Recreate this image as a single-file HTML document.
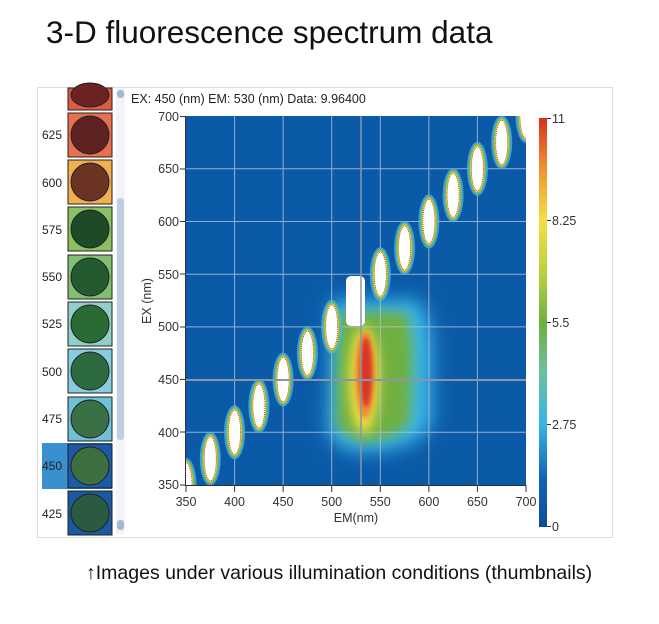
<!DOCTYPE html><html><head><meta charset="utf-8"><style>
body{margin:0;background:#fff;width:659px;height:624px;overflow:hidden;font-family:"Liberation Sans",sans-serif;position:relative}
.t{position:absolute;left:46px;top:14px;font-size:31.5px;color:#111}
.c{position:absolute;left:86px;top:562px;font-size:19.5px;color:#111}
</style></head><body>
<div class="t">3-D fluorescence spectrum data</div>
<svg width="659" height="624" style="position:absolute;left:0;top:0" font-family="Liberation Sans, sans-serif">
<defs>
<filter id="b1" x="-50%" y="-50%" width="200%" height="200%"><feGaussianBlur stdDeviation="9"/></filter>
<filter id="b2" x="-50%" y="-50%" width="200%" height="200%"><feGaussianBlur stdDeviation="6"/></filter>
<filter id="b3" x="-50%" y="-50%" width="200%" height="200%"><feGaussianBlur stdDeviation="2"/></filter>
<clipPath id="pc"><rect x="186" y="116" width="340" height="369"/></clipPath>
<linearGradient id="cb" x1="0" y1="1" x2="0" y2="0">
<stop offset="0" stop-color="#0b4c9c"/><stop offset="0.12" stop-color="#1065b5"/><stop offset="0.25" stop-color="#35b5e5"/><stop offset="0.38" stop-color="#6cc0a0"/><stop offset="0.5" stop-color="#6fb040"/><stop offset="0.62" stop-color="#b8d040"/><stop offset="0.75" stop-color="#f2e040"/><stop offset="0.88" stop-color="#f09030"/><stop offset="1" stop-color="#d83020"/></linearGradient>
<g id="el"><ellipse rx="10.5" ry="27" fill="#4ab4dc" opacity="0.8"/><ellipse rx="8.5" ry="25" fill="#80bc58"/><ellipse rx="7" ry="23.5" fill="#f0d040"/><ellipse rx="6" ry="22" fill="#fff" stroke="#a04020" stroke-width="0.8" stroke-dasharray="1 1"/></g>
</defs>
<rect x="37.5" y="87.5" width="575" height="450" fill="#fff" stroke="#ddd"/>
<rect x="128" y="90" width="482" height="445" fill="#fff"/>
<rect x="42" y="443" width="70" height="46" fill="#3a8fcf"/>
<g font-size="12" fill="#222">
<text x="42" y="139">625</text><text x="42" y="187">600</text><text x="42" y="234">575</text><text x="42" y="281">550</text><text x="42" y="328">525</text><text x="42" y="376">500</text><text x="42" y="423">475</text><text x="42" y="470">450</text><text x="42" y="518">425</text>
</g>
<g stroke="#222" stroke-width="1">
<rect x="68" y="88" width="44" height="22" fill="#e05a40"/>
<rect x="68" y="113" width="44" height="44" fill="#e8704f"/>
<rect x="68" y="160" width="44" height="44" fill="#f0b050"/>
<rect x="68" y="207" width="44" height="44" fill="#8cc060"/>
<rect x="68" y="255" width="44" height="44" fill="#80c070"/>
<rect x="68" y="302" width="44" height="44" fill="#90d0c8"/>
<rect x="68" y="349" width="44" height="44" fill="#88cce0"/>
<rect x="68" y="397" width="44" height="44" fill="#70c0d8"/>
<rect x="68" y="444" width="44" height="44" fill="#1a5aa8"/>
<rect x="68" y="491" width="44" height="44" fill="#1a5aa0"/>
</g>
<g stroke="#222" stroke-width="1">
<ellipse cx="90" cy="95" rx="19" ry="12" fill="#6a2222"/>
<circle cx="90" cy="135" r="19" fill="#5e2222"/>
<circle cx="90" cy="182" r="19" fill="#6a3322"/>
<circle cx="90" cy="229" r="19" fill="#1f4a28"/>
<circle cx="90" cy="277" r="19" fill="#245a30"/>
<circle cx="90" cy="324" r="19" fill="#2a6a35"/>
<circle cx="90" cy="371" r="19" fill="#2e6a40"/>
<circle cx="90" cy="419" r="19" fill="#3a7045"/>
<circle cx="90" cy="466" r="19" fill="#3d7040"/>
<circle cx="90" cy="513" r="19" fill="#2a5a40"/>
</g>
<rect x="116" y="88" width="9" height="446" fill="#f2f4f7"/>
<rect x="117" y="90" width="7" height="8" rx="3" fill="#a8b8cc"/>
<rect x="117" y="198" width="7" height="242" rx="3" fill="#c0cfe0"/>
<rect x="117" y="520" width="7" height="10" rx="3" fill="#a8b8cc"/>
<text x="131" y="103" font-size="12.5" fill="#222">EX: 450 (nm) EM: 530 (nm) Data: 9.96400</text>
<rect x="186" y="116" width="340" height="369" fill="#0b5aa8"/>
<g clip-path="url(#pc)">
<path d="M332 300 L418 300 Q430 312 432 350 L432 420 Q425 448 370 452 Q333 452 328 432 Z" fill="#3ab8e8" filter="url(#b1)"/>
<path d="M338 312 L405 312 Q414 330 412 380 L410 420 Q398 440 365 442 Q338 436 336 420 Z" fill="#70b040" filter="url(#b2)"/>
<ellipse cx="364" cy="380" rx="15" ry="54" fill="#f2e040" filter="url(#b2)"/>
<ellipse cx="365" cy="375" rx="10" ry="44" fill="#f09030" filter="url(#b3)"/>
<ellipse cx="366" cy="372" rx="6" ry="35" fill="#d83525" filter="url(#b3)"/>
<g stroke="#b8c4d4" stroke-width="1" opacity="0.8">
<line x1="234.6" y1="116" x2="234.6" y2="485"/><line x1="283.1" y1="116" x2="283.1" y2="485"/><line x1="331.7" y1="116" x2="331.7" y2="485"/><line x1="380.3" y1="116" x2="380.3" y2="485"/><line x1="428.9" y1="116" x2="428.9" y2="485"/><line x1="477.4" y1="116" x2="477.4" y2="485"/>
<line x1="186" y1="432.3" x2="526" y2="432.3"/><line x1="186" y1="379.6" x2="526" y2="379.6"/><line x1="186" y1="326.9" x2="526" y2="326.9"/><line x1="186" y1="274.2" x2="526" y2="274.2"/><line x1="186" y1="221.5" x2="526" y2="221.5"/><line x1="186" y1="168.8" x2="526" y2="168.8"/>
</g>
<use href="#el" x="186" y="485"/><use href="#el" x="210.3" y="458.7"/><use href="#el" x="234.6" y="432.3"/><use href="#el" x="258.9" y="406"/><use href="#el" x="283.1" y="379.6"/><use href="#el" x="307.4" y="353.3"/><use href="#el" x="331.7" y="326.9"/><use href="#el" x="380.3" y="274.2"/><use href="#el" x="404.6" y="247.9"/><use href="#el" x="428.9" y="221.5"/><use href="#el" x="453.1" y="195.2"/><use href="#el" x="477.4" y="168.8"/><use href="#el" x="501.7" y="142.5"/><use href="#el" x="526" y="116"/>
<rect x="346" y="276" width="19" height="50" rx="5" fill="#fff"/>
<line x1="361" y1="116" x2="361" y2="485" stroke="#8a96a8" stroke-width="1.5"/>
<line x1="186" y1="380" x2="526" y2="380" stroke="#8a96a8" stroke-width="2"/>
</g>
<g stroke="#333" stroke-width="1">
<line x1="185.5" y1="116" x2="185.5" y2="486"/><line x1="186" y1="485.5" x2="526" y2="485.5"/>
<line x1="180" y1="116.5" x2="186" y2="116.5"/><line x1="180" y1="169" x2="186" y2="169"/><line x1="180" y1="221.5" x2="186" y2="221.5"/><line x1="180" y1="274" x2="186" y2="274"/><line x1="180" y1="327" x2="186" y2="327"/><line x1="180" y1="379.5" x2="186" y2="379.5"/><line x1="180" y1="432" x2="186" y2="432"/><line x1="180" y1="485" x2="186" y2="485"/>
<line x1="186" y1="485" x2="186" y2="492"/><line x1="234.6" y1="485" x2="234.6" y2="492"/><line x1="283.1" y1="485" x2="283.1" y2="492"/><line x1="331.7" y1="485" x2="331.7" y2="492"/><line x1="380.3" y1="485" x2="380.3" y2="492"/><line x1="428.9" y1="485" x2="428.9" y2="492"/><line x1="477.4" y1="485" x2="477.4" y2="492"/><line x1="526" y1="485" x2="526" y2="492"/>
</g>
<g font-size="12.5" fill="#333" text-anchor="end">
<text x="179" y="121">700</text><text x="179" y="173">650</text><text x="179" y="226">600</text><text x="179" y="279">550</text><text x="179" y="331">500</text><text x="179" y="384">450</text><text x="179" y="437">400</text><text x="179" y="489">350</text>
</g>
<g font-size="12.5" fill="#333" text-anchor="middle">
<text x="186" y="506">350</text><text x="234.6" y="506">400</text><text x="283.1" y="506">450</text><text x="331.7" y="506">500</text><text x="380.3" y="506">550</text><text x="428.9" y="506">600</text><text x="477.4" y="506">650</text><text x="526" y="506">700</text>
<text x="356" y="522">EM(nm)</text>
</g>
<text transform="translate(151,301) rotate(-90)" font-size="12.5" fill="#333" text-anchor="middle">EX (nm)</text>
<rect x="539" y="118" width="8" height="409" fill="url(#cb)"/>
<g stroke="#333"><line x1="547" y1="118.5" x2="551" y2="118.5"/><line x1="547" y1="220.5" x2="551" y2="220.5"/><line x1="547" y1="322.5" x2="551" y2="322.5"/><line x1="547" y1="424.5" x2="551" y2="424.5"/><line x1="547" y1="526.5" x2="551" y2="526.5"/></g>
<g font-size="12.5" fill="#333"><text x="552" y="123">11</text><text x="552" y="225">8.25</text><text x="552" y="327">5.5</text><text x="552" y="429">2.75</text><text x="552" y="531">0</text></g>
</svg>
<div class="c">↑Images under various illumination conditions (thumbnails)</div>
</body></html>
